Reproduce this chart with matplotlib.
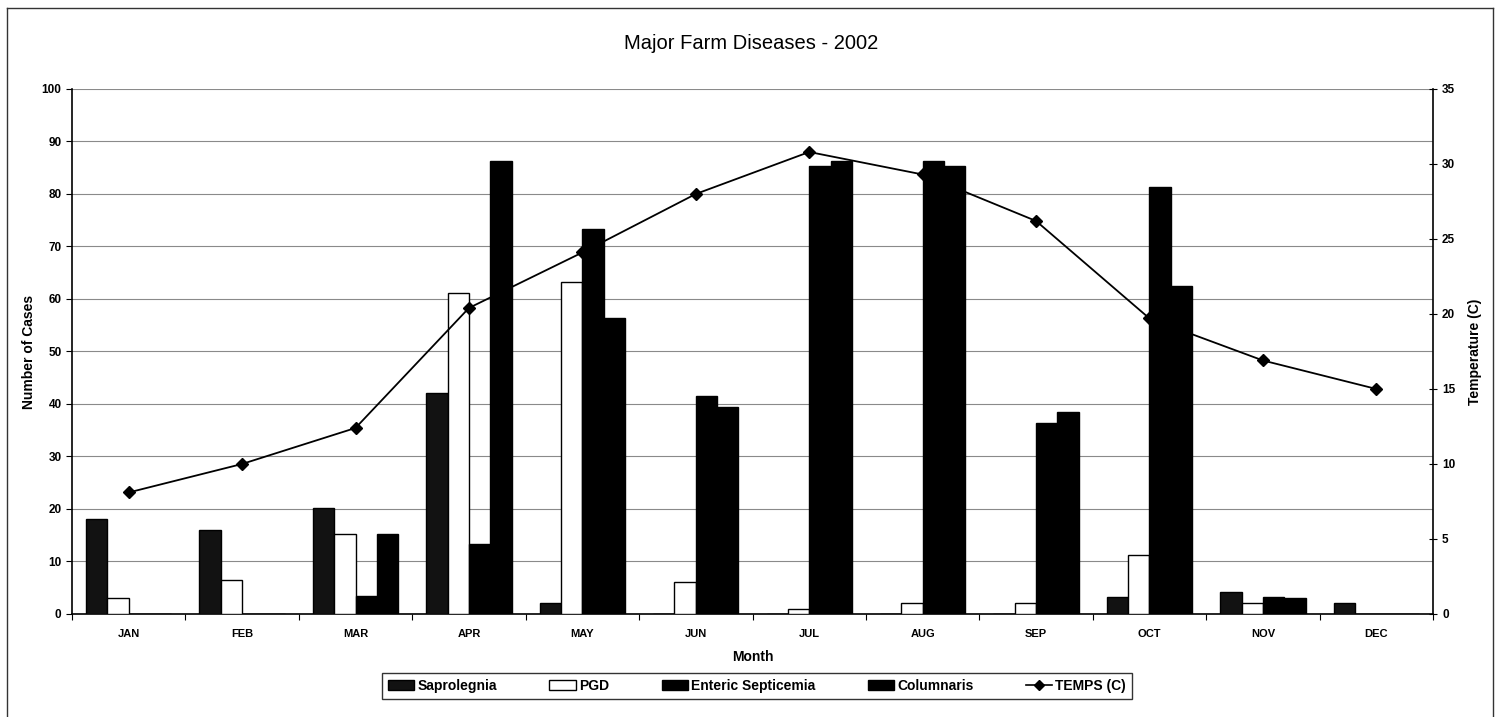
import matplotlib
matplotlib.use("Agg")
import matplotlib.pyplot as plt
from matplotlib.lines import Line2D
from matplotlib.patches import Patch
import numpy as np

plt.rcParams['font.family'] = ['Liberation Sans', 'DejaVu Sans']

months = ["JAN", "FEB", "MAR", "APR", "MAY", "JUN", "JUL", "AUG", "SEP", "OCT", "NOV", "DEC"]
saprolegnia = [18, 16, 20.2, 42.1, 2.1, 0, 0, 0, 0, 3.2, 4.1, 2.1]
pgd = [3.1, 6.4, 15.2, 61.2, 63.3, 6.1, 1.0, 2.1, 2.1, 11.2, 2.0, 0]
enteric = [0, 0, 3.5, 13.4, 73.4, 41.6, 85.4, 86.2, 36.4, 81.3, 3.2, 0]
columnaris = [0, 0, 15.2, 86.2, 56.3, 39.4, 86.2, 85.4, 38.4, 62.4, 3.1, 0]
temps = [8.1, 10.0, 12.4, 20.4, 24.1, 28.0, 30.8, 29.3, 26.2, 19.7, 16.9, 15.0]

fig = plt.figure(figsize=(15.02, 7.17), dpi=100)
ax = fig.add_axes([0.0479, 0.1437, 0.9062, 0.7322])

x = np.arange(len(months))
w = 0.188
series = [
    (saprolegnia, "Saprolegnia", "#121212"),
    (pgd, "PGD", "white"),
    (enteric, "Enteric Septicemia", "black"),
    (columnaris, "Columnaris", "black"),
]
for i, (vals, name, col) in enumerate(series):
    ax.bar(x + (i - 1.5) * w, vals, width=w, color=col, edgecolor="black",
           linewidth=1.0, zorder=3)

ax.set_xlim(-0.5, 11.5)
ax.set_ylim(0, 100)
ax.set_yticks(np.arange(0, 101, 10))
ax.set_xticks(x)
ax.set_xticklabels(months, fontsize=8, fontweight="bold")
ax.set_xticks(np.arange(-0.5, 12, 1), minor=True)
ax.tick_params(axis="x", which="major", length=0, pad=11)
ax.tick_params(axis="x", which="minor", length=4, direction="out", width=0.8)
ax.tick_params(axis="y", length=4, direction="out", width=0.8, labelsize=8.5)
for lab in ax.get_yticklabels():
    lab.set_fontweight("bold")
ax.yaxis.grid(True, color="#8a8a8a", linewidth=0.8, zorder=0)
ax.set_axisbelow(True)
for s in ["top", "right"]:
    ax.spines[s].set_visible(False)
ax.spines["left"].set_linewidth(1.2)
ax.spines["bottom"].set_linewidth(1.2)
ax.set_ylabel("Number of Cases", fontsize=10, fontweight="bold", labelpad=4)
ax.set_xlabel("Month", fontsize=10, fontweight="bold", labelpad=8)

ax2 = ax.twinx()
ax2.plot(x, temps, color="black", linewidth=1.3, marker="D", markersize=6.5,
         zorder=5)
ax2.set_ylim(0, 35)
ax2.set_yticks(np.arange(0, 36, 5))
ax2.tick_params(axis="y", length=6, direction="inout", width=0.8, labelsize=8.5)
for lab in ax2.get_yticklabels():
    lab.set_fontweight("bold")
for s in ["top", "left", "bottom"]:
    ax2.spines[s].set_visible(False)
ax2.spines["right"].set_linewidth(1.2)
ax2.set_ylabel("Temperature (C)", fontsize=10, fontweight="bold", labelpad=9)

fig.text(0.5, 0.94, "Major Farm Diseases - 2002", ha="center", va="center",
         fontsize=14.5)

handles = [Patch(facecolor=c, edgecolor="black", linewidth=1.0, label=n)
           for _, n, c in series]
handles.append(Line2D([], [], color="black", marker="D", markersize=5,
                      linewidth=1.2, label="TEMPS (C)"))
leg = fig.legend(handles=handles, loc="center", bbox_to_anchor=(0.504, 0.0432),
                 ncol=5, frameon=True, fancybox=False, edgecolor="black",
                 prop={"weight": "bold", "size": 10}, handlelength=1.9,
                 handleheight=0.75, columnspacing=3.8, handletextpad=0.2,
                 borderpad=0.4)
leg.get_frame().set_linewidth(1.0)

# outer frame around the chart area
for xs, ys in [([0.0047, 0.0047], [0.0, 0.989]),
               ([0.0047, 0.9940], [0.989, 0.989]),
               ([0.9940, 0.9940], [0.989, 0.0])]:
    fig.add_artist(Line2D(xs, ys, color="#333333", linewidth=1.0,
                          transform=fig.transFigure))

fig.savefig("out.png", dpi=100, facecolor="white")
